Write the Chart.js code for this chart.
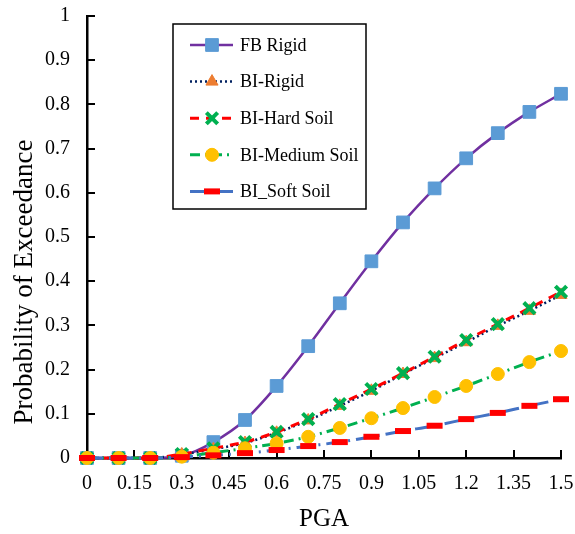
<!DOCTYPE html>
<html>
<head>
<meta charset="utf-8">
<script src="https://cdn.jsdelivr.net/npm/chart.js@4"></script>
<style>
  html, body { margin: 0; padding: 0; background: #fff; }
  #wrap { width: 575px; height: 534px; }
</style>
</head>
<body>
<div id="wrap"><canvas id="grafik" width="575" height="534"></canvas></div>
<script>
  var pga = [0, 0.1, 0.2, 0.3, 0.4, 0.5, 0.6, 0.7, 0.8, 0.9, 1.0, 1.1, 1.2, 1.3, 1.4, 1.5];
  var fbRigid = [0, 0, 0, 0.005, 0.036, 0.086, 0.163, 0.253, 0.35, 0.445, 0.533, 0.61, 0.678, 0.735, 0.783, 0.824];
  var biRigid = [0, 0, 0, 0.008, 0.02, 0.034, 0.057, 0.085, 0.118, 0.152, 0.19, 0.226, 0.262, 0.299, 0.333, 0.369];
  var hardSoil = [0, 0, 0, 0.009, 0.022, 0.036, 0.059, 0.088, 0.122, 0.156, 0.192, 0.229, 0.267, 0.303, 0.339, 0.376];
  var mediumSoil = [0, 0, 0, 0.003, 0.012, 0.022, 0.033, 0.048, 0.068, 0.09, 0.113, 0.138, 0.163, 0.19, 0.217, 0.242];
  var softSoil = [0, 0, 0, 0.002, 0.006, 0.011, 0.018, 0.027, 0.036, 0.048, 0.061, 0.073, 0.088, 0.102, 0.118, 0.133];

  var judulY = "Probability of Exceedance";
  var judulX = "PGA";

  function titik(arr) {
    return arr.map(function(v, i) { return { x: pga[i], y: v }; });
  }

  var serif = "'Liberation Serif', 'Times New Roman', serif";

  // garis tick ke dalam (gaya Excel)
  var tickDalam = {
    id: "tickDalam",
    beforeDatasetsDraw: function(chart) {
      var ctx = chart.ctx, a = chart.chartArea;
      ctx.save();
      ctx.strokeStyle = "#000";
      ctx.lineWidth = 2;
      chart.scales.x.ticks.forEach(function(t) {
        var px = Math.round(chart.scales.x.getPixelForValue(t.value));
        ctx.beginPath();
        ctx.moveTo(px, a.bottom);
        ctx.lineTo(px, a.bottom - 8);
        ctx.stroke();
      });
      chart.scales.y.ticks.forEach(function(t) {
        var py = Math.round(chart.scales.y.getPixelForValue(t.value));
        ctx.beginPath();
        ctx.moveTo(a.left, py);
        ctx.lineTo(a.left + 8, py);
        ctx.stroke();
      });
      ctx.restore();
    }
  };

  // judul sumbu Y, agak ke bawah seperti aslinya
  var judulSumbuY = {
    id: "judulSumbuY",
    afterDraw: function(chart) {
      var ctx = chart.ctx;
      ctx.save();
      ctx.translate(25, 282);
      ctx.rotate(-Math.PI / 2);
      ctx.fillStyle = "#000";
      ctx.font = "27px " + serif;
      ctx.textAlign = "center";
      ctx.textBaseline = "middle";
      ctx.fillText(judulY, 0, 0);
      ctx.restore();
    }
  };

  // legenda di dalam kotak
  var legendaKotak = {
    id: "legendaKotak",
    afterDraw: function(chart) {
      var ctx = chart.ctx;
      var bx = 173, by = 24, bw = 193, bh = 185;
      ctx.save();
      ctx.fillStyle = "#fff";
      ctx.fillRect(bx, by, bw, bh);
      ctx.strokeStyle = "#000";
      ctx.lineWidth = 1.5;
      ctx.strokeRect(bx, by, bw, bh);
      chart.data.datasets.forEach(function(ds, i) {
        var y = 45 + i * 36.6;
        ctx.save();
        ctx.strokeStyle = ds.borderColor;
        ctx.lineWidth = ds.borderWidth;
        ctx.setLineDash(ds.borderDash || []);
        ctx.beginPath();
        ctx.moveTo(190, y);
        ctx.lineTo(233, y);
        ctx.stroke();
        ctx.restore();
        ctx.save();
        ctx.fillStyle = ds.pointBackgroundColor;
        ctx.strokeStyle = ds.pointBorderColor;
        ctx.lineWidth = ds.pointBorderWidth;
        Chart.helpers.drawPoint(ctx, {
          pointStyle: ds.pointStyle,
          radius: ds.pointRadius,
          borderWidth: ds.pointBorderWidth,
          rotation: 0
        }, 212, y);
        ctx.restore();
        ctx.fillStyle = "#000";
        ctx.font = "18px " + serif;
        ctx.textBaseline = "middle";
        ctx.textAlign = "left";
        ctx.fillText(ds.label, 240, y + 1);
      });
      ctx.restore();
    }
  };

  var ctx = document.getElementById("grafik").getContext("2d");

  new Chart(ctx, {
    type: "line",
    data: {
      datasets: [{
        label: "FB Rigid",
        data: titik(fbRigid),
        borderColor: "#7030A0",
        borderWidth: 2.5,
        pointStyle: "rect",
        pointRadius: 9,
        pointBackgroundColor: "#5B9BD5",
        pointBorderColor: "#5B9BD5",
        pointBorderWidth: 1,
        cubicInterpolationMode: "monotone",
        order: 5
      }, {
        label: "BI-Rigid",
        data: titik(biRigid),
        borderColor: "#002060",
        borderWidth: 2.5,
        borderDash: [2, 3],
        pointStyle: "triangle",
        pointRadius: 7,
        pointBackgroundColor: "#ED7D31",
        pointBorderColor: "#ED7D31",
        pointBorderWidth: 1,
        cubicInterpolationMode: "monotone",
        order: 4
      }, {
        label: "BI-Hard Soil",
        data: titik(hardSoil),
        borderColor: "#FF0000",
        borderWidth: 3,
        borderDash: [9, 7],
        pointStyle: "crossRot",
        pointRadius: 8,
        pointBackgroundColor: "#00B050",
        pointBorderColor: "#00B050",
        pointBorderWidth: 4,
        cubicInterpolationMode: "monotone",
        order: 3
      }, {
        label: "BI-Medium Soil",
        data: titik(mediumSoil),
        borderColor: "#00B050",
        borderWidth: 3,
        borderDash: [10, 5, 2, 5],
        pointStyle: "circle",
        pointRadius: 6.5,
        pointBackgroundColor: "#FFC000",
        pointBorderColor: "#FFC000",
        pointBorderWidth: 1,
        cubicInterpolationMode: "monotone",
        order: 2
      }, {
        label: "BI_Soft Soil",
        data: titik(softSoil),
        borderColor: "#4472C4",
        borderWidth: 3,
        borderDash: [16, 6, 2, 6],
        pointStyle: "line",
        pointRadius: 8,
        pointBackgroundColor: "#FF0000",
        pointBorderColor: "#FF0000",
        pointBorderWidth: 6,
        cubicInterpolationMode: "monotone",
        order: 1
      }]
    },
    options: {
      responsive: false,
      animation: false,
      clip: false,
      layout: { padding: { top: 16, right: 11, left: 0, bottom: 0 } },
      plugins: {
        legend: { display: false },
        tooltip: { enabled: false }
      },
      scales: {
        x: {
          type: "linear",
          min: 0,
          max: 1.5,
          afterBuildTicks: function(scale) {
            var t = [];
            for (var k = 0; k <= 10; k++) t.push({ value: Math.round(k * 15) / 100 });
            scale.ticks = t;
          },
          afterFit: function(scale) {
            scale.height = 76;
            scale.paddingRight = 0;
            scale.paddingLeft = 0;
          },
          grid: { display: false, drawTicks: false },
          border: { color: "#000", width: 2.5 },
          ticks: {
            color: "#000",
            padding: 14,
            maxRotation: 0,
            autoSkip: false,
            font: { family: serif, size: 20 },
            callback: function(v) { return String(Math.round(v * 100) / 100); }
          },
          title: {
            display: true,
            text: judulX,
            color: "#000",
            padding: { top: 4, bottom: 0 },
            font: { family: serif, size: 25 }
          }
        },
        y: {
          min: 0,
          max: 1,
          afterFit: function(scale) {
            scale.width = 87;
            scale.paddingTop = 0;
            scale.paddingBottom = 0;
          },
          grid: { display: false, drawTicks: false },
          border: { color: "#000", width: 2.5 },
          ticks: {
            stepSize: 0.1,
            color: "#000",
            padding: 17,
            font: { family: serif, size: 20 },
            callback: function(v) { return String(Math.round(v * 10) / 10); }
          },
          title: { display: false }
        }
      }
    },
    plugins: [tickDalam, judulSumbuY, legendaKotak]
  });
</script>
</body>
</html>
